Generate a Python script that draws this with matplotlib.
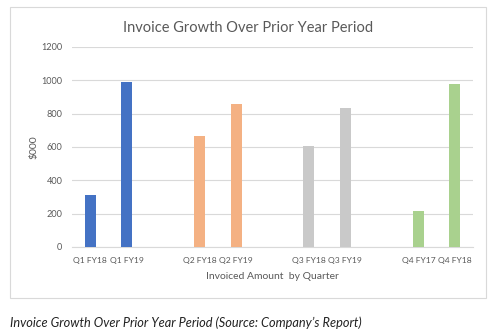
import matplotlib
matplotlib.use("Agg")
import matplotlib.pyplot as plt
from matplotlib.patches import Rectangle

# values, $000
labels = ["Q1 FY18", "Q1 FY19", "", "Q2 FY18", "Q2 FY19", "",
          "Q3 FY18", "Q3 FY19", "", "Q4 FY17", "Q4 FY18"]
values = [315, 988, None, 667, 857, None, 604, 832, None, 217, 978]
colors = ["#4472C4", "#4472C4", None, "#F4B183", "#F4B183", None,
          "#C9C9C9", "#C9C9C9", None, "#A9D18E", "#A9D18E"]
yticks = [0, 200, 400, 600, 800, 1000, 1200]

plt.rcParams["font.family"] = ["Lato", "DejaVu Sans"]
grey = "#595959"

fig = plt.figure(figsize=(4.95, 3.36), dpi=100)
fig.patches.append(Rectangle((10 / 495, 1 - 298 / 336), 476 / 495, 291 / 336,
                             transform=fig.transFigure, fill=False,
                             edgecolor="#D9D9D9", linewidth=0.8))

ax = fig.add_axes([72 / 495, 1 - 247 / 336, 401 / 495, 200 / 336])
for i, (v, c) in enumerate(zip(values, colors)):
    if v is not None:
        ax.bar(i, v, width=0.3, color=c, zorder=3)

ax.set_xlim(-0.5, len(labels) - 0.5)
ax.set_ylim(0, 1200)
ax.set_yticks(yticks)
ax.set_xticks(range(len(labels)))
ax.set_xticklabels(labels)
ax.grid(axis="y", color="#D9D9D9", linewidth=0.8, zorder=0)
for s in ["top", "right", "left"]:
    ax.spines[s].set_visible(False)
ax.spines["bottom"].set_color("#D9D9D9")
ax.tick_params(length=0, labelsize=6.6, colors=grey, pad=7)
ax.tick_params(axis="x", labelsize=6.1)
ax.tick_params(axis="y", pad=7)

ax.set_ylabel("$000", fontsize=7.5, color=grey, labelpad=2)
ax.set_xlabel("Invoiced Amount  by Quarter", fontsize=7.5, color=grey, labelpad=6)
fig.text(248 / 495, 1 - 28 / 336, "Invoice Growth Over Prior Year Period",
         ha="center", va="center", fontsize=10.5, color=grey)
fig.text(10 / 495, 1 - 323 / 336,
         "Invoice Growth Over Prior Year Period (Source: Company\u2019s Report)",
         ha="left", va="center", fontsize=9.2, style="italic", color="#222222")

fig.savefig("out.png", dpi=100)
